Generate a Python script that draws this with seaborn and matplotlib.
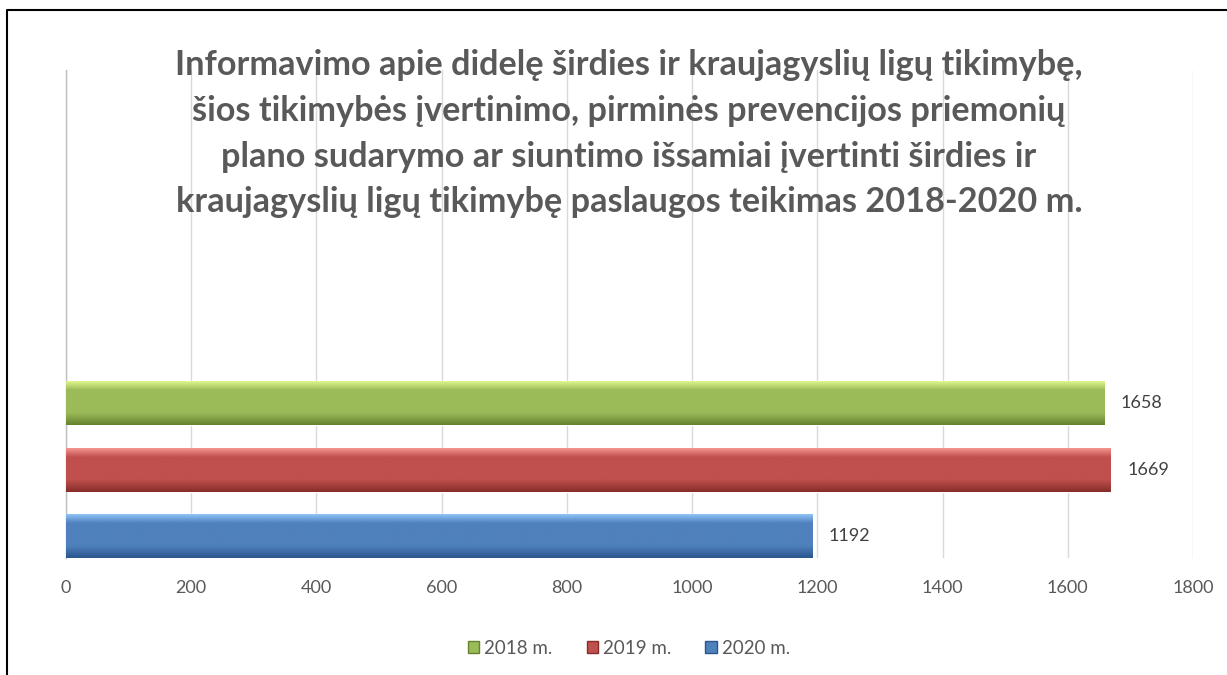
import numpy as np
import pandas as pd
import matplotlib
matplotlib.use("Agg")
import matplotlib.pyplot as plt
from matplotlib.patches import Patch
from matplotlib.lines import Line2D
from matplotlib.colors import LinearSegmentedColormap
import seaborn as sns

# Data
years = ["2018 m.", "2019 m.", "2020 m."]
values = [1658, 1669, 1192]
colors = ["#9bbb59", "#c0504d", "#4f81bd"]
tops = ["#dff78c", "#f59590", "#8fc3f7"]
bottoms = ["#66822e", "#862d2a", "#2b568f"]
ticks = [0, 200, 400, 600, 800, 1000, 1200, 1400, 1600, 1800]

title = ("Informavimo apie didelę širdies ir kraujagyslių ligų tikimybę,\n"
         "šios tikimybės įvertinimo, pirminės prevencijos priemonių\n"
         "plano sudarymo ar siuntimo išsamiai įvertinti širdies ir\n"
         "kraujagyslių ligų tikimybę paslaugos teikimas 2018-2020 m.")

df = pd.DataFrame({"metai": years, "kiekis": values})

sns.set_style("white")
plt.rcParams["font.family"] = ["Lato", "DejaVu Sans"]

W, H = 1227, 675
fig = plt.figure(figsize=(W / 100, H / 100), dpi=100)
ax = fig.add_axes([66 / W, 1 - 558 / H, (1193 - 66) / W, (558 - 70) / H])

sns.barplot(data=df, x="kiekis", y="metai", hue="metai", order=years,
            palette=colors, width=0.66, legend=False, ax=ax, zorder=2)

# gradient shading on each bar
for p, c, t, b in zip(ax.patches, colors, tops, bottoms):
    x0, y0 = p.get_x(), p.get_y()
    w, h = p.get_width(), p.get_height()
    cmap = LinearSegmentedColormap.from_list("g", [(0, t), (0.2, c), (0.72, c), (1, b)])
    grad = np.linspace(0, 1, 100).reshape(-1, 1)
    im = ax.imshow(grad, cmap=cmap, aspect="auto", extent=(x0, x0 + w, y0 + h, y0),
                   zorder=3, interpolation="bicubic")
    im.set_clip_path(p)
    ax.text(x0 + w + 26, y0 + h / 2, f"{w:.0f}", va="center", ha="left",
            fontsize=13, color="#404040", zorder=4)

ax.set_xlim(0, 1800)
ax.set_ylim(2.33, -5.01)
ax.set_xticks(ticks)
ax.set_xticklabels([str(t) for t in ticks])
ax.set_yticks([])
ax.set_xlabel("")
ax.set_ylabel("")
ax.tick_params(axis="x", length=0, pad=16, labelsize=13, labelcolor="#595959")
ax.grid(axis="x", color="#d9d9d9", linewidth=1, zorder=0)
ax.set_axisbelow(True)
for s in ["top", "right", "bottom"]:
    ax.spines[s].set_visible(False)
ax.spines["left"].set_color("#bfbfbf")
ax.spines["left"].set_linewidth(1)

# title
fig.text(629 / W, 1 - 49 / H, title, ha="center", va="top", fontsize=24.7,
         fontweight="bold", color="#595959", linespacing=1.53)

# legend
handles = [Patch(facecolor=c, edgecolor=b, label=y) for c, b, y in zip(colors, bottoms, years)]
fig.legend(handles=handles, loc="center", bbox_to_anchor=(629 / W, 1 - 648 / H), ncol=3,
           frameon=False, fontsize=13.5, handlelength=0.6, handleheight=0.6,
           handletextpad=0.3, columnspacing=1.8, labelcolor="#595959")

# chart border (left and top)
fig.add_artist(Line2D([7 / W, 7 / W, 1], [0, 1 - 10 / H, 1 - 10 / H],
                      color="black", linewidth=1.5, transform=fig.transFigure))

fig.savefig("out.png", dpi=100)
